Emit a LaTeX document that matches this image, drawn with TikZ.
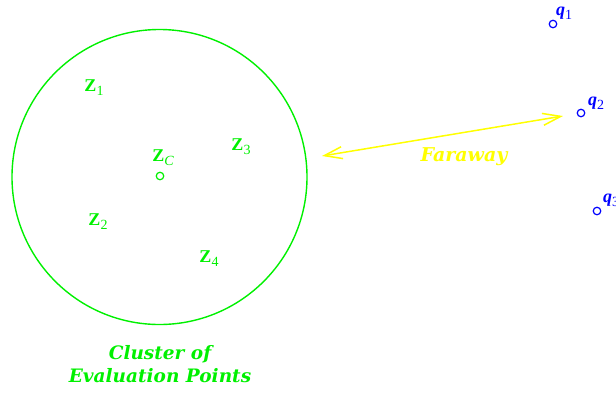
\documentclass[tikz,border=0pt]{standalone}
\usepackage{fontspec}
\setmainfont{Liberation Serif}
\newfontfamily\titlefont{DejaVu Serif}
\usetikzlibrary{arrows.meta}
\definecolor{pgreen}{RGB}{0,240,0}
\definecolor{pblue}{RGB}{0,0,255}
\definecolor{pyellow}{RGB}{255,255,0}
\newcommand{\sbx}[1]{\raisebox{-4pt}{\fontsize{14}{14}\selectfont #1}}
\tikzset{
  zlab/.style={text=pgreen,inner sep=0pt,font=\fontsize{18}{18}\selectfont},
  qlab/.style={text=pblue,inner sep=0pt,font=\fontsize{18}{18}\selectfont},
  pt/.style={circle,draw,line width=1.2pt,minimum size=7.5pt,inner sep=0pt},
  bigtxt/.style={inner sep=0pt,font=\titlefont\bfseries\itshape\fontsize{#1}{23}\selectfont}
}
\begin{document}
\begin{tikzpicture}[x=1pt,y=-1pt]
\useasboundingbox (0,0) rectangle (616,392);
\node[draw=pgreen,line width=1.4pt,circle,minimum size=295pt,inner sep=0pt] (cl) at (159.5,177) {};
\node[pt,draw=pgreen] (zc) at (160,176) {};
\node[zlab] (lzc) at (163,158) {\textbf{Z}\sbx{\textit{C}}};
\node[zlab] (lz1) at (94,88) {\textbf{Z}\sbx{1}};
\node[zlab] (lz3) at (241,147) {\textbf{Z}\sbx{3}};
\node[zlab] (lz2) at (98,222) {\textbf{Z}\sbx{2}};
\node[zlab] (lz4) at (209,259) {\textbf{Z}\sbx{4}};
\node[pt,draw=pblue] (q1) at (553,24) {};
\node[qlab] (lq1) at (564,13) {\textbf{\textit{q}}\sbx{1}};
\node[pt,draw=pblue] (q2) at (581,113) {};
\node[qlab] (lq2) at (596,103) {\textbf{\textit{q}}\sbx{2}};
\node[pt,draw=pblue] (q3) at (597,211) {};
\node[qlab] (lq3) at (611,200) {\textbf{\textit{q}}\sbx{3}};
\coordinate (a1) at (322,156);
\coordinate (a2) at (563,116);
\draw[pyellow,line width=1.5pt,{Straight Barb[length=18pt,width=12pt]}-{Straight Barb[length=18pt,width=12pt]}] (a1) -- (a2);
\node[bigtxt=19,text=pyellow] (far) at (464,157) {Faraway};
\node[bigtxt=18.5,text=pgreen,align=center] (clt) at (160,364.5) {Cluster of\\Evaluation Points};
\end{tikzpicture}
\end{document}
